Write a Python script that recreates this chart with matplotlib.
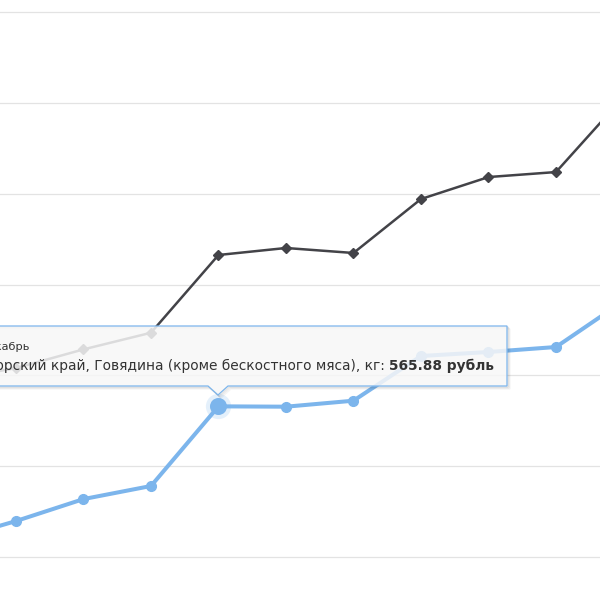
import matplotlib
matplotlib.use("Agg")
import matplotlib.pyplot as plt
import matplotlib.transforms as mtransforms
from matplotlib.patches import Polygon

# months along the x axis (only Sep..May fully visible in the crop)
MONTHS = ["Август", "Сентябрь", "Октябрь", "Ноябрь", "Декабрь", "Январь",
          "Февраль", "Март", "Апрель", "Май", "Июнь"]
X = list(range(-1, 10))

# dark series (diamonds)
DARK_NAME = "Российская Федерация, Говядина (кроме бескостного мяса), кг"
DARK = [595, 608, 628.6, 646.9, 732.5, 740.2, 734.7, 794.1, 818.3, 823.8, 906.4]

# blue series (circles)
BLUE_NAME = "Приморский край, Говядина (кроме бескостного мяса), кг"
BLUE = [418, 439.6, 463.8, 478.2, 565.88, 565.5, 572.1, 621.3, 625.7, 631.2, 681.8]

GRID = [400, 500, 600, 700, 800, 900, 1000]
HOVER = 4  # index of the hovered point (Декабрь)
UNIT = "рубль"

DARK_C = "#434348"
BLUE_C = "#7cb5ec"

fig = plt.figure(figsize=(6, 6), dpi=100)
ax = fig.add_axes([0, 0, 1, 1])
ax.set_xlim(-0.237, 8.652)
ax.set_ylim(352.7, 1013.2)
ax.axis("off")

for g in GRID:
    ax.axhline(g, color="#e3e3e3", lw=0.9, zorder=0)

ax.plot(X, DARK, color=DARK_C, lw=1.8, marker="D", ms=5.5,
        mec=DARK_C, mfc=DARK_C, zorder=2)
ax.plot(X, BLUE, color=BLUE_C, lw=2.9, marker="o", ms=7,
        mec=BLUE_C, mfc=BLUE_C, zorder=3)

# hovered point: halo + larger marker
ax.scatter([X[HOVER]], [BLUE[HOVER]], s=330, color=BLUE_C, alpha=0.2,
           lw=0, zorder=4)
ax.scatter([X[HOVER]], [BLUE[HOVER]], s=150, color=BLUE_C, lw=0, zorder=5)

# pixel transform (x from left, y from top) for the tooltip
px = mtransforms.Affine2D().scale(1 / 600, -1 / 600).translate(0, 1) + fig.transFigure

shape = [(-20, 326), (507, 326), (507, 386), (228, 386), (218, 395),
         (208, 386), (-20, 386)]
for d, a in [(3, 0.04), (2, 0.07), (1, 0.1)]:
    fig.add_artist(Polygon([(x + d, y + d) for x, y in shape], closed=True,
                           facecolor="none", edgecolor="black", alpha=a,
                           lw=1.0, transform=px, zorder=5))
fig.add_artist(Polygon(shape, closed=True, facecolor=(0.97, 0.97, 0.97, 0.85),
                       edgecolor=BLUE_C, lw=0.9, transform=px, zorder=6))

# header and body are cut at the left edge, as in the screenshot
fig.text(30, 347, MONTHS[HOVER], transform=px, ha="right", va="center",
         fontsize=8.2, color="#333333", zorder=7)

bold = f"{BLUE[HOVER]:.2f} {UNIT}"
t_bold = fig.text(494, 366, bold, transform=px, ha="right", va="center",
                  fontsize=9.9, fontweight="bold", color="#333333", zorder=7)
r = fig.canvas.get_renderer()
bw = t_bold.get_window_extent(r).width
fig.text(494 - bw - 4, 366, f"{BLUE_NAME}:", transform=px, ha="right",
         va="center", fontsize=9.9, color="#333333", zorder=7)

fig.savefig("out.png", dpi=100)
